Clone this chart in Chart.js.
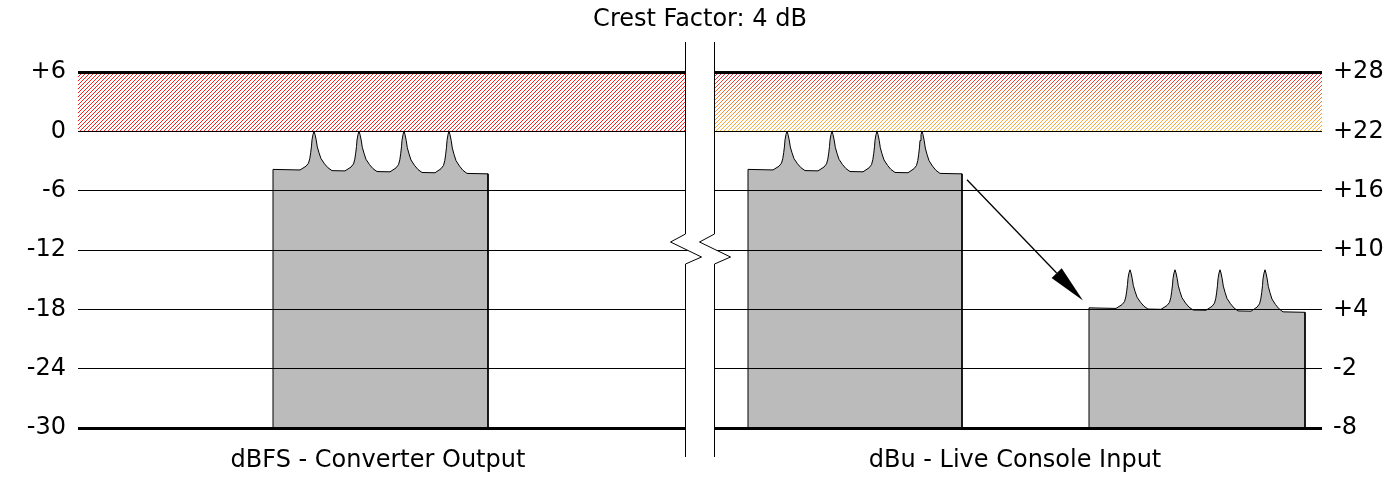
<!DOCTYPE html>
<html>
<head>
<meta charset="utf-8">
<script src="https://cdn.jsdelivr.net/npm/chart.js@4/dist/chart.umd.min.js"></script>
<style>
  html, body { margin: 0; padding: 0; background: #fff; }
  #wrap { width: 1400px; height: 500px; }
</style>
</head>
<body>
<div id="wrap"><canvas id="myChart"></canvas></div>
<script>
// left axis dBFS, right axis dBu (+22 offset)
const dbfsMin = -30, dbfsMax = 6;
const dbuMin = -8, dbuMax = 28;
const tickStep = 6;
const panelLabels = ["dBFS - Converter Output", "dBu - Live Console Input"];
const panelCenters = [300, 937];

// signal blocks: x = time position, y = level in dBFS
const blockStart = [195, 670, 1011];
const blockEnd = [410, 884, 1227];
const baseStart = [-3.85, -3.85, -17.85];
const baseEnd = [-4.3, -4.3, -18.3];
const peakTop = [0, 0, -14];
const peakPos = [[236, 281, 326, 371], [709, 754, 799, 844], [1052, 1097, 1142, 1187]];

// one transient: offset from its centre vs share of the crest height
const peakOffset = [-14, -11, -8, -5.5, -4.2, -3.3, -2.5, -2, -1, 0, 1, 2.2, 3.3, 5, 7, 10.5, 14, 18];
const peakShare  = [0, 0.05, 0.1, 0.18, 0.3, 0.45, 0.62, 0.78, 0.92, 1, 0.92, 0.78, 0.6, 0.45, 0.3, 0.17, 0.07, 0];

const arrowFrom = [889, -4.9];
const arrowTo = [1005, -17.1];
const breakAt = [607, 636];

function buildBlock(i) {
  const base = (x) => baseStart[i] + (baseEnd[i] - baseStart[i]) * (x - blockStart[i]) / (blockEnd[i] - blockStart[i]);
  const pts = [{x: blockStart[i], y: dbfsMin}, {x: blockStart[i], y: baseStart[i]}];
  peakPos[i].forEach((c) => {
    peakOffset.forEach((o, k) => {
      const b = base(c + o);
      pts.push({x: c + o, y: b + peakShare[k] * (peakTop[i] - b)});
    });
  });
  pts.push({x: blockEnd[i], y: baseEnd[i]});
  pts.push({x: blockEnd[i], y: dbfsMin});
  return pts;
}

const signed = (v) => (v > 0 ? "+" + v : "" + v);
const FONT = {family: "'DejaVu Sans', Verdana, sans-serif", size: 24};

// hatch tile drawn pixel by pixel, then coloured through source-in
function hatchCanvas(w, h, stops) {
  const c = document.createElement("canvas");
  c.width = w; c.height = h;
  const g = c.getContext("2d");
  g.fillStyle = "#000";
  for (let yy = 0; yy < h; yy++) {
    for (let xx = 0; xx < w; xx++) {
      if ((xx + yy) % 4 === 0) g.fillRect(xx, yy, 1, 1);
    }
  }
  const grad = g.createLinearGradient(0, 0, 0, h);
  stops.forEach(([p, col]) => grad.addColorStop(p, col));
  g.globalCompositeOperation = "source-in";
  g.fillStyle = grad;
  g.fillRect(0, 0, w, h);
  return c;
}

const hatchPlugin = {
  id: "hatch",
  beforeDatasetsDraw(chart) {
    const {ctx, chartArea: a, scales: {x, y}} = chart;
    const top = Math.round(y.getPixelForValue(dbfsMax)), bot = Math.round(y.getPixelForValue(0));
    const h = bot - top;
    const panels = [
      [Math.round(a.left), Math.round(x.getPixelForValue(breakAt[0]))],
      [Math.round(x.getPixelForValue(breakAt[1])), Math.round(a.right)]
    ];
    const colours = [
      [[0, "#ff2020"], [1, "#ff2020"]],
      [[0, "#e8203c"], [0.4, "#f07030"], [1, "#ffb440"]]
    ];
    panels.forEach(([l, r], i) => {
      ctx.drawImage(hatchCanvas(r - l, h, colours[i]), l, top);
    });
  },
  afterDatasetsDraw(chart) {
    const {ctx, scales: {x, y}} = chart;
    const x0 = x.getPixelForValue(arrowFrom[0]), y0 = y.getPixelForValue(arrowFrom[1]);
    const x1 = x.getPixelForValue(arrowTo[0]), y1 = y.getPixelForValue(arrowTo[1]);
    const ang = Math.atan2(y1 - y0, x1 - x0);
    const len = 38, half = 7;
    const bx = x1 - len * Math.cos(ang), by = y1 - len * Math.sin(ang);
    ctx.save();
    ctx.strokeStyle = "#000";
    ctx.fillStyle = "#000";
    ctx.lineWidth = 1.3;
    ctx.beginPath();
    ctx.moveTo(x0, y0);
    ctx.lineTo(bx, by);
    ctx.stroke();
    ctx.beginPath();
    ctx.moveTo(x1, y1);
    ctx.lineTo(bx + half * Math.sin(ang), by - half * Math.cos(ang));
    ctx.lineTo(bx - half * Math.sin(ang), by + half * Math.cos(ang));
    ctx.closePath();
    ctx.fill();
    ctx.restore();
  }
};

const breakPlugin = {
  id: "axisBreak",
  afterDraw(chart) {
    const {ctx, chartArea: a, scales: {x, y}} = chart;
    const xl = Math.round(x.getPixelForValue(breakAt[0])) + 0.5;
    const xr = Math.round(x.getPixelForValue(breakAt[1])) + 0.5;
    const yc = y.getPixelForValue(-12);
    const t = a.top - 30, b = a.bottom + 29;
    const zig = [[0, -16], [-15, -8], [16, 7], [0, 14]];
    const path = (x0) => [[x0, t]].concat(zig.map(([dx, dy]) => [x0 + dx, yc + dy]), [[x0, b]]);
    const L = path(xl), R = path(xr);
    ctx.save();
    ctx.fillStyle = "#fff";
    ctx.beginPath();
    L.forEach(([px, py], k) => (k ? ctx.lineTo(px, py) : ctx.moveTo(px, py)));
    R.slice().reverse().forEach(([px, py]) => ctx.lineTo(px, py));
    ctx.closePath();
    ctx.fill();
    ctx.strokeStyle = "#000";
    ctx.lineWidth = 1;
    [L, R].forEach((P) => {
      ctx.beginPath();
      P.forEach(([px, py], k) => (k ? ctx.lineTo(px, py) : ctx.moveTo(px, py)));
      ctx.stroke();
    });
    ctx.restore();
  }
};

const datasets = blockStart.map((_, i) => ({
  data: buildBlock(i),
  yAxisID: "y",
  borderColor: "#000",
  borderWidth: 1,
  backgroundColor: "#bbbbbb",
  fill: "start",
  pointRadius: 0,
  tension: 0
}));

new Chart(document.getElementById("myChart"), {
  type: "line",
  data: {datasets: datasets},
  plugins: [hatchPlugin, breakPlugin],
  options: {
    responsive: true,
    maintainAspectRatio: false,
    animation: false,
    layout: {padding: 0},
    plugins: {
      legend: {display: false},
      tooltip: {enabled: false},
      title: {
        display: true,
        text: "Crest Factor: 4 dB",
        color: "#000",
        font: {family: FONT.family, size: 24, weight: "normal"},
        padding: {top: 5, bottom: 38.2}
      }
    },
    scales: {
      x: {
        type: "linear",
        min: 0,
        max: 1244,
        grid: {display: false},
        border: {display: false},
        afterBuildTicks: (s) => { s.ticks = panelCenters.map((v) => ({value: v})); },
        afterFit: (s) => { s.height = 72; },
        ticks: {
          autoSkip: false,
          maxRotation: 0,
          padding: 10,
          color: "#000",
          font: FONT,
          callback: (v) => panelLabels[panelCenters.indexOf(v)]
        }
      },
      y: {
        position: "left",
        min: dbfsMin,
        max: dbfsMax,
        border: {display: false},
        afterFit: (s) => { s.width = 78; },
        grid: {
          z: 1,
          color: "#000",
          drawTicks: false,
          lineWidth: (c) => (c.tick && (c.tick.value === dbfsMax || c.tick.value === dbfsMin) ? 3 : 1)
        },
        ticks: {stepSize: tickStep, padding: 12, color: "#000", font: FONT, callback: signed}
      },
      y2: {
        position: "right",
        min: dbuMin,
        max: dbuMax,
        border: {display: false},
        afterFit: (s) => { s.width = 78; },
        grid: {drawOnChartArea: false, drawTicks: false},
        ticks: {stepSize: tickStep, padding: 11, color: "#000", font: FONT, callback: signed}
      }
    }
  }
});
</script>
</body>
</html>
